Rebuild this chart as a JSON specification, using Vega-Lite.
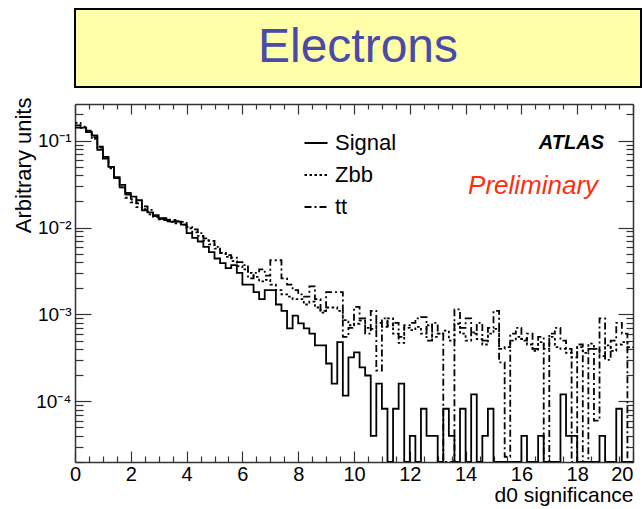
{
  "$schema": "https://vega.github.io/schema/vega-lite/v6.json",
  "background": "white",
  "padding": {"left": 12, "top": 8, "right": 2, "bottom": 4},
  "config": {
    "font": "Liberation Sans",
    "view": {"stroke": null},
    "axis": {
      "grid": false,
      "domainColor": "#333333",
      "domainWidth": 1.5,
      "tickColor": "#333333",
      "tickWidth": 1.2,
      "labelColor": "black",
      "titleColor": "black",
      "labelFont": "Liberation Sans",
      "titleFont": "Liberation Sans",
      "titleFontWeight": "normal"
    }
  },
  "datasets": {
    "bins": [
      {"d0": 0, "Signal": 0.141, "Zbb": 0.16, "tt": 0.15},
      {"d0": 0.2, "Signal": 0.141, "Zbb": 0.14, "tt": 0.145},
      {"d0": 0.4, "Signal": 0.125, "Zbb": 0.125, "tt": 0.13},
      {"d0": 0.6, "Signal": 0.115, "Zbb": 0.105, "tt": 0.11},
      {"d0": 0.8, "Signal": 0.0785, "Zbb": 0.083, "tt": 0.085},
      {"d0": 1, "Signal": 0.062, "Zbb": 0.064, "tt": 0.065},
      {"d0": 1.2, "Signal": 0.05, "Zbb": 0.048, "tt": 0.05},
      {"d0": 1.4, "Signal": 0.037, "Zbb": 0.037, "tt": 0.038},
      {"d0": 1.6, "Signal": 0.029, "Zbb": 0.029, "tt": 0.031},
      {"d0": 1.8, "Signal": 0.025, "Zbb": 0.022, "tt": 0.024},
      {"d0": 2, "Signal": 0.0227, "Zbb": 0.0195, "tt": 0.021},
      {"d0": 2.2, "Signal": 0.0206, "Zbb": 0.0172, "tt": 0.019},
      {"d0": 2.4, "Signal": 0.0158, "Zbb": 0.0163, "tt": 0.0175},
      {"d0": 2.6, "Signal": 0.0149, "Zbb": 0.0142, "tt": 0.016},
      {"d0": 2.8, "Signal": 0.0139, "Zbb": 0.0133, "tt": 0.0135},
      {"d0": 3, "Signal": 0.0128, "Zbb": 0.0124, "tt": 0.0125},
      {"d0": 3.2, "Signal": 0.0122, "Zbb": 0.0118, "tt": 0.0128},
      {"d0": 3.4, "Signal": 0.0117, "Zbb": 0.0116, "tt": 0.0122},
      {"d0": 3.6, "Signal": 0.0117, "Zbb": 0.0112, "tt": 0.0118},
      {"d0": 3.8, "Signal": 0.0108, "Zbb": 0.0108, "tt": 0.0116},
      {"d0": 4, "Signal": 0.0086, "Zbb": 0.0098, "tt": 0.0101},
      {"d0": 4.2, "Signal": 0.0076, "Zbb": 0.0088, "tt": 0.0095},
      {"d0": 4.4, "Signal": 0.0069, "Zbb": 0.008, "tt": 0.0086},
      {"d0": 4.6, "Signal": 0.006, "Zbb": 0.0071, "tt": 0.0075},
      {"d0": 4.8, "Signal": 0.0052, "Zbb": 0.0064, "tt": 0.007},
      {"d0": 5, "Signal": 0.0044, "Zbb": 0.0057, "tt": 0.006},
      {"d0": 5.2, "Signal": 0.0039, "Zbb": 0.0051, "tt": 0.0051},
      {"d0": 5.4, "Signal": 0.0034, "Zbb": 0.0046, "tt": 0.0048},
      {"d0": 5.6, "Signal": 0.0037, "Zbb": 0.0041, "tt": 0.0045},
      {"d0": 5.8, "Signal": 0.003, "Zbb": 0.0036, "tt": 0.004},
      {"d0": 6, "Signal": 0.0022, "Zbb": 0.0033, "tt": 0.0037},
      {"d0": 6.2, "Signal": 0.0022, "Zbb": 0.003, "tt": 0.0026},
      {"d0": 6.4, "Signal": 0.0018, "Zbb": 0.0027, "tt": 0.003},
      {"d0": 6.6, "Signal": 0.0015, "Zbb": 0.0024, "tt": 0.0033},
      {"d0": 6.8, "Signal": 0.0019, "Zbb": 0.0025, "tt": 0.0028},
      {"d0": 7, "Signal": 0.0019, "Zbb": 0.0022, "tt": 0.0042},
      {"d0": 7.2, "Signal": 0.0013, "Zbb": 0.0019, "tt": 0.0042},
      {"d0": 7.4, "Signal": 0.0011, "Zbb": 0.0017, "tt": 0.0026},
      {"d0": 7.6, "Signal": 0.00069, "Zbb": 0.0016, "tt": 0.0022},
      {"d0": 7.8, "Signal": 0.00097, "Zbb": 0.0015, "tt": 0.0019},
      {"d0": 8, "Signal": 0.00079, "Zbb": 0.0015, "tt": 0.0017},
      {"d0": 8.2, "Signal": 0.00069, "Zbb": 0.0013, "tt": 0.0016},
      {"d0": 8.4, "Signal": 0.0006, "Zbb": 0.0014, "tt": 0.0021},
      {"d0": 8.6, "Signal": 0.00044, "Zbb": 0.0012, "tt": 0.0015},
      {"d0": 8.8, "Signal": 0.00044, "Zbb": 0.00105, "tt": 0.0011},
      {"d0": 9, "Signal": 0.000272, "Zbb": 0.0012, "tt": 0.0018},
      {"d0": 9.2, "Signal": 0.00016, "Zbb": 0.0012, "tt": 0.0018},
      {"d0": 9.4, "Signal": 0.00048, "Zbb": 0.0011, "tt": 0.0018},
      {"d0": 9.6, "Signal": 0.000116, "Zbb": 0.00086, "tt": 0.00055},
      {"d0": 9.8, "Signal": 0.00032, "Zbb": 0.00075, "tt": 0.0007},
      {"d0": 10, "Signal": 0.000365, "Zbb": 0.00078, "tt": 0.00122},
      {"d0": 10.2, "Signal": 0.000245, "Zbb": 0.00085, "tt": 0.0009},
      {"d0": 10.4, "Signal": 0.000198, "Zbb": 0.0007, "tt": 0.0006},
      {"d0": 10.6, "Signal": 0.00004, "Zbb": 0.00068, "tt": 0.0011},
      {"d0": 10.8, "Signal": 0.00016, "Zbb": 0.0008, "tt": 0.000226},
      {"d0": 11, "Signal": 0.000082, "Zbb": 0.00072, "tt": 0.0009},
      {"d0": 11.2, "Signal": 0, "Zbb": 0.0009, "tt": 0.00075},
      {"d0": 11.4, "Signal": 0.000082, "Zbb": 0.0006, "tt": 0.0008},
      {"d0": 11.6, "Signal": 0.00016, "Zbb": 0.00047, "tt": 0.00055},
      {"d0": 11.8, "Signal": 0, "Zbb": 0.0007, "tt": 0.00075},
      {"d0": 12, "Signal": 0.00004, "Zbb": 0.00066, "tt": 0.0008},
      {"d0": 12.2, "Signal": 0, "Zbb": 0.00072, "tt": 0.0009},
      {"d0": 12.4, "Signal": 0.000082, "Zbb": 0.0006, "tt": 0.00093},
      {"d0": 12.6, "Signal": 0.00004, "Zbb": 0.00075, "tt": 0.0005},
      {"d0": 12.8, "Signal": 0.00004, "Zbb": 0.00055, "tt": 0.0008},
      {"d0": 13, "Signal": 0, "Zbb": 0.0006, "tt": 0.0006},
      {"d0": 13.2, "Signal": 0.000082, "Zbb": 0.00065, "tt": 0},
      {"d0": 13.4, "Signal": 0.00004, "Zbb": 0.0005, "tt": 0},
      {"d0": 13.6, "Signal": 0, "Zbb": 0.00078, "tt": 0.00114},
      {"d0": 13.8, "Signal": 0.000082, "Zbb": 0.0006, "tt": 0.0007},
      {"d0": 14, "Signal": 0, "Zbb": 0.0005, "tt": 0.0009},
      {"d0": 14.2, "Signal": 0.00012, "Zbb": 0.00062, "tt": 0.0006},
      {"d0": 14.4, "Signal": 0, "Zbb": 0.00052, "tt": 0.0008},
      {"d0": 14.6, "Signal": 0.00004, "Zbb": 0.00045, "tt": 0.0005},
      {"d0": 14.8, "Signal": 0.000082, "Zbb": 0.0006, "tt": 0.0007},
      {"d0": 15, "Signal": 0, "Zbb": 0.00068, "tt": 0.0011},
      {"d0": 15.2, "Signal": 0, "Zbb": 0.0004, "tt": 0.00028},
      {"d0": 15.4, "Signal": 0, "Zbb": 0.00042, "tt": 0.000023},
      {"d0": 15.6, "Signal": 0, "Zbb": 0.0005, "tt": 0.0006},
      {"d0": 15.8, "Signal": 0, "Zbb": 0.00055, "tt": 0.0007},
      {"d0": 16, "Signal": 0.00004, "Zbb": 0.00052, "tt": 0.0005},
      {"d0": 16.2, "Signal": 0, "Zbb": 0.00045, "tt": 0.0006},
      {"d0": 16.4, "Signal": 0, "Zbb": 0.00038, "tt": 0.0004},
      {"d0": 16.6, "Signal": 0.00004, "Zbb": 0.00048, "tt": 0.00055},
      {"d0": 16.8, "Signal": 0, "Zbb": 0.0004, "tt": 0},
      {"d0": 17, "Signal": 0, "Zbb": 0.00055, "tt": 0.0006},
      {"d0": 17.2, "Signal": 0, "Zbb": 0.00042, "tt": 0.0007},
      {"d0": 17.4, "Signal": 0.00012, "Zbb": 0.0004, "tt": 0.0005},
      {"d0": 17.6, "Signal": 0.00004, "Zbb": 0.00036, "tt": 0.0004},
      {"d0": 17.8, "Signal": 0.00004, "Zbb": 0.00032, "tt": 0},
      {"d0": 18, "Signal": 0, "Zbb": 0.00042, "tt": 0.00045},
      {"d0": 18.2, "Signal": 0, "Zbb": 0.00036, "tt": 0},
      {"d0": 18.4, "Signal": 0, "Zbb": 0.00046, "tt": 0.0004},
      {"d0": 18.6, "Signal": 0, "Zbb": 0.0004, "tt": 0.00006},
      {"d0": 18.8, "Signal": 0.00004, "Zbb": 0.00033, "tt": 0.0009},
      {"d0": 19, "Signal": 0, "Zbb": 0.00044, "tt": 0.0003},
      {"d0": 19.2, "Signal": 0, "Zbb": 0.00038, "tt": 0.0005},
      {"d0": 19.4, "Signal": 0.000082, "Zbb": 0.00045, "tt": 0.0008},
      {"d0": 19.6, "Signal": 0, "Zbb": 0.00048, "tt": 0.0006},
      {"d0": 19.8, "Signal": 0, "Zbb": 0.00042, "tt": 0},
      {"d0": 20, "Signal": 0, "Zbb": 0.00042, "tt": 0}
    ]
  },
  "bounds": "flush",
  "spacing": 17,
  "vconcat": [
    {
      "width": 566,
      "height": 78,
      "view": {"fill": "#ffffa8", "stroke": "black", "strokeWidth": 2},
      "data": {"values": [{"label": "Electrons"}]},
      "mark": {"type": "text", "font": "Liberation Sans", "fontSize": 48, "color": "#4a4aa8", "align": "center", "baseline": "middle"},
      "encoding": {"text": {"field": "label"}}
    },
    {
      "width": 558,
      "height": 358,
      "data": {"name": "bins"},
      "layer": [
        {
          "transform": [
            {"fold": ["Signal", "Zbb", "tt"], "as": ["sample", "y"]},
            {"filter": "datum.sample == 'Signal'"}
          ],
          "mark": {"type": "line", "interpolate": "step-after", "strokeWidth": 1.8, "color": "black", "clip": true, "invalid": null},
          "encoding": {
            "x": {
              "field": "d0", "type": "quantitative",
              "scale": {"domain": [0, 20], "nice": false, "zero": false},
              "axis": {
                "orient": "bottom",
                "values": [0, 0.5, 1, 1.5, 2, 2.5, 3, 3.5, 4, 4.5, 5, 5.5, 6, 6.5, 7, 7.5, 8, 8.5, 9, 9.5, 10, 10.5, 11, 11.5, 12, 12.5, 13, 13.5, 14, 14.5, 15, 15.5, 16, 16.5, 17, 17.5, 18, 18.5, 19, 19.5, 20],
                "title": "d0 significance",
                "titleFontSize": 21,
                "titleAlign": "right",
                "titleBaseline": "alphabetic",
                "titleX": 558,
                "titleY": 39,
                "labelFontSize": 20,
                "labelExpr": "datum.value % 2 == 0 ? '' + datum.value : ''",
                "labelPadding": 13,
                "labelFlush": false,
                "labelOverlap": false,
                "labelAlign": {"condition": {"test": "datum.value == 20", "value": "right"}, "value": "center"},
                "tickSize": {"condition": {"test": "datum.value % 2 == 0", "value": -11}, "value": -6}
              }
            },
            "y": {
              "field": "y", "type": "quantitative",
              "scale": {"type": "log", "domain": [0.00002, 0.264], "nice": false, "clamp": true},
              "axis": {
                "orient": "left",
                "values": [0.00002, 0.00003, 0.00004, 0.00005, 0.00006, 0.00007, 0.00008, 0.00009, 0.0001, 0.0002, 0.0003, 0.0004, 0.0005, 0.0006, 0.0007, 0.0008, 0.0009, 0.001, 0.002, 0.003, 0.004, 0.005, 0.006, 0.007, 0.008, 0.009, 0.01, 0.02, 0.03, 0.04, 0.05, 0.06, 0.07, 0.08, 0.09, 0.1, 0.2],
                "title": "Arbitrary units",
                "titleFontSize": 22,
                "titleAngle": 270,
                "titleAlign": "right",
                "titleBaseline": "alphabetic",
                "titleX": -45,
                "titleY": -7,
                "labelFontSize": 19,
                "labelExpr": "datum.value == 0.1 ? '10⁻¹' : datum.value == 0.01 ? '10⁻²' : datum.value == 0.001 ? '10⁻³' : datum.value == 0.0001 ? '10⁻⁴' : ''",
                "labelPadding": 20,
                "labelOverlap": false,
                "labelFlush": false,
                "tickSize": {"condition": {"test": "indexof([0.1, 0.01, 0.001, 0.0001], datum.value) >= 0", "value": -16}, "value": -8}
              }
            },
            "strokeDash": {
              "field": "sample", "type": "nominal",
              "scale": {"domain": ["Signal", "Zbb", "tt"], "range": [[1, 0], [2.5, 2.5], [7, 3, 2, 3]]},
              "legend": {
                "orient": "none",
                "legendX": 228,
                "legendY": 121,
                "title": null,
                "symbolType": "stroke",
                "symbolSize": 530,
                "symbolStrokeWidth": 2,
                "symbolStrokeColor": "black",
                "labelFont": "Liberation Sans",
                "labelFontSize": 22,
                "labelColor": "black",
                "labelOffset": 6,
                "rowPadding": 8,
                "padding": 0
              }
            }
          }
        },
        {
          "transform": [
            {"fold": ["Signal", "Zbb", "tt"], "as": ["sample", "y"]},
            {"filter": "datum.sample != 'Signal'"}
          ],
          "mark": {"type": "line", "interpolate": "step-after", "strokeWidth": 1.8, "color": "black", "clip": true, "invalid": null},
          "encoding": {
            "x": {
              "field": "d0", "type": "quantitative",
              "axis": {
                "orient": "top",
                "values": [0, 0.5, 1, 1.5, 2, 2.5, 3, 3.5, 4, 4.5, 5, 5.5, 6, 6.5, 7, 7.5, 8, 8.5, 9, 9.5, 10, 10.5, 11, 11.5, 12, 12.5, 13, 13.5, 14, 14.5, 15, 15.5, 16, 16.5, 17, 17.5, 18, 18.5, 19, 19.5, 20],
                "labels": false,
                "title": null,
                "tickSize": {"condition": {"test": "datum.value % 2 == 0", "value": -10}, "value": -5}
              }
            },
            "y": {
              "field": "y", "type": "quantitative",
              "axis": {
                "orient": "right",
                "values": [0.00002, 0.00003, 0.00004, 0.00005, 0.00006, 0.00007, 0.00008, 0.00009, 0.0001, 0.0002, 0.0003, 0.0004, 0.0005, 0.0006, 0.0007, 0.0008, 0.0009, 0.001, 0.002, 0.003, 0.004, 0.005, 0.006, 0.007, 0.008, 0.009, 0.01, 0.02, 0.03, 0.04, 0.05, 0.06, 0.07, 0.08, 0.09, 0.1, 0.2],
                "labels": false,
                "title": null,
                "tickSize": {"condition": {"test": "indexof([0.1, 0.01, 0.001, 0.0001], datum.value) >= 0", "value": -15}, "value": -7}
              }
            },
            "strokeDash": {"field": "sample", "type": "nominal"}
          }
        },
        {
          "data": {"values": [{"label": "ATLAS"}]},
          "mark": {"type": "text", "font": "Liberation Sans", "fontSize": 20, "fontStyle": "italic", "fontWeight": "bold", "color": "black", "align": "right", "baseline": "alphabetic"},
          "encoding": {
            "x": {"datum": 18.96, "type": "quantitative", "axis": null},
            "y": {"datum": 0.0807, "type": "quantitative", "axis": null},
            "text": {"field": "label"}
          }
        },
        {
          "data": {"values": [{"label": "Preliminary"}]},
          "mark": {"type": "text", "font": "Liberation Sans", "fontSize": 26, "fontStyle": "italic", "color": "#ff2d0f", "align": "right", "baseline": "alphabetic"},
          "encoding": {
            "x": {"datum": 18.75, "type": "quantitative", "axis": null},
            "y": {"datum": 0.0245, "type": "quantitative", "axis": null},
            "text": {"field": "label"}
          }
        }
      ],
      "resolve": {"axis": {"x": "independent", "y": "independent"}}
    }
  ]
}
